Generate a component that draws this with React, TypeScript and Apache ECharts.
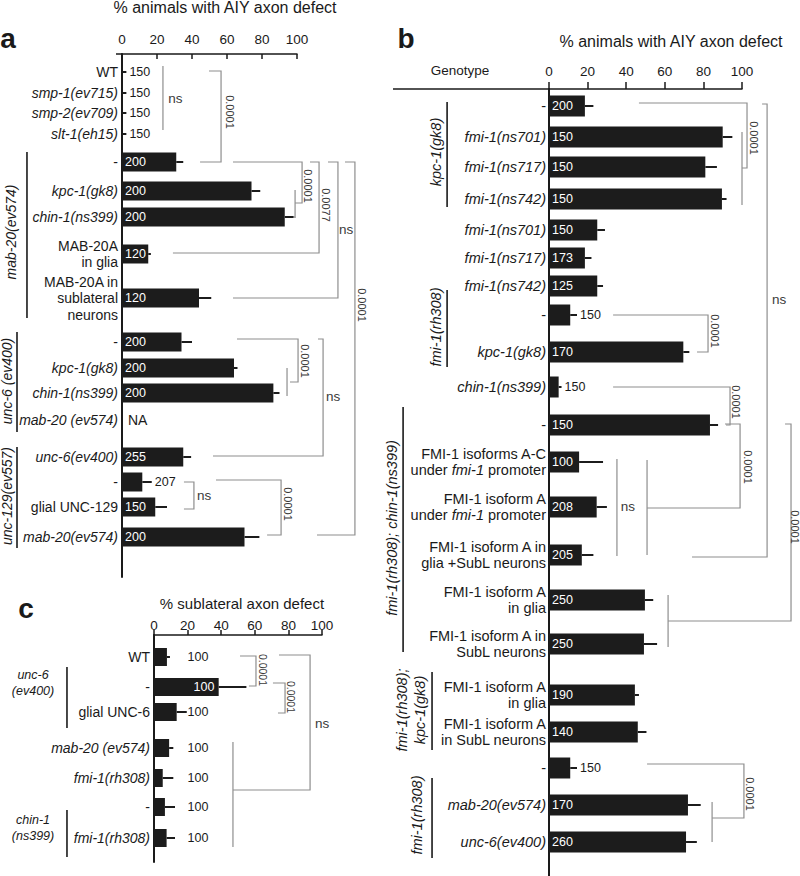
import React, { useEffect, useRef } from "react";
import * as echarts from "echarts";

const FONT = "'Liberation Sans', Arial, Helvetica, sans-serif";
const INK = "#1a1a1a";
const BAR = "#1c1c1c";
const GRAY = "#8e8e8e";

// ---------------- Panel a ----------------
const aCats = [
  "WT", "smp-1(ev715)", "smp-2(ev709)", "slt-1(eh15)",
  "-", "kpc-1(gk8)", "chin-1(ns399)", "MAB-20A\nin glia", "MAB-20A in\nsublateral\nneurons",
  "-", "kpc-1(gk8)", "chin-1(ns399)", "mab-20 (ev574)",
  "unc-6(ev400)", "-", "glial UNC-129", "mab-20(ev574)",
];
const aItalic = [0, 1, 1, 1, 0, 1, 1, 0, 0, 0, 1, 1, 1, 1, 0, 0, 1];
const aValues: (number | null)[] = [0, 0, 0, 0, 31, 74, 93, 15, 44, 34, 64, 86.5, null, 35, 11.6, 19, 70];
const aErr: (number | null)[] = [2.5, 2.5, 2.5, 2.5, 35, 79, 98, 16.5, 51, 40, 66, 90, null, 39.5, 17, 25.7, 78.5];
const aN = ["150", "150", "150", "150", "200", "200", "200", "120", "120", "200", "200", "200", "NA", "255", "207", "150", "200"];

// ---------------- Panel b ----------------
const bCats = [
  "-", "fmi-1(ns701)", "fmi-1(ns717)", "fmi-1(ns742)",
  "fmi-1(ns701)", "fmi-1(ns717)", "fmi-1(ns742)",
  "-", "kpc-1(gk8)", "chin-1(ns399)", "-",
  "FMI-1 isoforms A-C\nunder {i|fmi-1} promoter",
  "FMI-1 isoform A\nunder {i|fmi-1} promoter",
  "FMI-1 isoform A in\nglia +SubL neurons",
  "FMI-1 isoform A\nin glia",
  "FMI-1 isoform A in\nSubL neurons",
  "FMI-1 isoform A\nin glia",
  "FMI-1 isoform A\nin SubL neurons",
  "-", "mab-20(ev574)", "unc-6(ev400)",
];
const bItalic = [0, 1, 1, 1, 1, 1, 1, 0, 1, 1, 0, 0, 0, 0, 0, 0, 0, 0, 0, 1, 1];
const bValues: (number | null)[] = [18.6, 90, 81, 89.6, 25, 18.6, 25, 11, 69.6, 5, 83.4, 15.6, 24.7, 17, 49.7, 49.2, 44.5, 46, 11, 72, 71];
const bErr: (number | null)[] = [23, 95, 87, 92, 29, 22, 28, 14.5, 72.7, 6.5, 87.6, 28, 30, 23, 54, 56, 46.6, 50.5, 14.5, 78.6, 76.6];
const bN = ["200", "150", "150", "150", "150", "173", "125", "150", "170", "150", "150", "100", "208", "205", "250", "250", "190", "140", "150", "170", "260"];

// ---------------- Panel c ----------------
const cCats = ["WT", "-", "glial UNC-6", "mab-20 (ev574)", "fmi-1(rh308)", "-", "fmi-1(rh308)"];
const cItalic = [0, 0, 0, 1, 1, 0, 1];
const cValues: (number | null)[] = [7.7, 38.5, 13.5, 9, 5.2, 6.5, 7.5];
const cErr: (number | null)[] = [9.5, 55, 19.5, 11.5, 11.5, 12.5, 12.5];
const cN = ["100", "100", "100", "100", "100", "100", "100"];

// ---------------- Layout (row positions along each panel's vertical scale) ----------------
const aRowY = [18, 39, 59, 80, 108, 137, 163, 200, 244, 288, 314, 339, 366, 403, 428, 453, 483];
const bRowY = [17, 48, 78, 110, 141, 169, 197, 226, 263, 298, 336, 373, 418, 466, 511, 555, 606, 643, 679, 716, 753];
const cRowY = [22, 52, 77, 113, 143, 172, 203];

// significance brackets, in [percent, row-scale] coordinates
const aBrackets = [
  { paths: [[[23.4, 12], [23.4, 76]]], text: "ns", at: [30.5, 44], rot: false },
  { paths: [[[49.7, 17], [56.6, 17], [56.6, 108], [44.6, 108]]], text: "0.0001", at: [61.7, 58], rot: true },
  { paths: [[[63.4, 108], [102.9, 108], [102.9, 149], [98.9, 149]], [[98.9, 136], [98.9, 164]], [[97.7, 163], [98.9, 163]]], text: "0.0001", at: [106, 132], rot: true },
  { paths: [[[107.4, 108], [112.6, 108], [112.6, 199], [29.1, 199]]], text: "0.0077", at: [116.5, 151], rot: true },
  { paths: [[[117.7, 108], [123.4, 108], [123.4, 244], [63.4, 244]]], text: "ns", at: [128, 175], rot: false },
  { paths: [[[127.4, 108], [133.1, 108], [133.1, 481], [111.4, 481]]], text: "0.0001", at: [137.1, 251], rot: true },
  { paths: [[[65.7, 285], [100.6, 285], [100.6, 328], [96, 328]], [[94.3, 314], [94.3, 342]]], text: "0.0001", at: [104.6, 307], rot: true },
  { paths: [[[112, 285], [114.9, 285], [114.9, 402], [52, 402]]], text: "ns", at: [120.6, 342], rot: false },
  { paths: [[[35.4, 428], [41.1, 428], [41.1, 455], [35.4, 455]]], text: "ns", at: [46.9, 441], rot: false },
  { paths: [[[53.7, 426], [90.9, 426], [90.9, 481], [82.9, 481]]], text: "0.0001", at: [94.9, 450], rot: true },
];
const bBrackets = [
  { paths: [[[46.6, 14], [102.6, 14], [102.6, 79], [100, 79]], [[100, 43], [100, 116]]], text: "0.0001", at: [106.2, 49], rot: true },
  { paths: [[[110.4, 15], [113, 15], [113, 468], [74.1, 468]]], text: "ns", at: [119.2, 210], rot: false },
  { paths: [[[33.2, 226], [82.4, 226], [82.4, 263], [76.7, 263]]], text: "0.0001", at: [86, 242], rot: true },
  { paths: [[[33.2, 298], [93.8, 298], [93.8, 336], [91.7, 336]]], text: "0.0001", at: [96.9, 313], rot: true },
  { paths: [[[91.2, 335], [99, 335], [99, 419], [50.8, 419]], [[50.8, 371], [50.8, 466]]], text: "0.0001", at: [103.1, 378], rot: true },
  { paths: [[[35.2, 370], [35.2, 467]]], text: "ns", at: [40.9, 417], rot: false },
  { paths: [[[122.3, 335], [125.4, 335], [125.4, 532], [61.7, 532]], [[61.7, 506], [61.7, 558]]], text: "0.0001", at: [127.5, 438], rot: true },
  { paths: [[[50.8, 675], [101, 675], [101, 729], [84.5, 729]], [[84.5, 713], [84.5, 753]]], text: "0.0001", at: [104.1, 705], rot: true },
];
const cBrackets = [
  { paths: [[[51.2, 21], [60.7, 21], [60.7, 51], [56.5, 51]]], text: "0.0001", at: [64.9, 35], rot: true },
  { paths: [[[70.8, 48], [78, 48], [78, 78], [73.8, 78]]], text: "0.0001", at: [81.8, 62], rot: true },
  { paths: [[[74.4, 20], [92.9, 20], [92.9, 155], [47, 155]], [[47, 107], [47, 212]]], text: "ns", at: [100, 88], rot: false },
];

// genotype group labels
const aGroups = [
  { text: "mab-20(ev574)", lineV: -54.3, y0: 98, y1: 264, textV: -63.7, textY: 178, rot: true },
  { text: "unc-6 (ev400)", lineV: -60, y0: 278, y1: 378, textV: -65.7, textY: 327, rot: true },
  { text: "unc-129(ev557)", lineV: -60, y0: 393, y1: 494, textV: -65.7, textY: 442, rot: true },
];
const bGroups = [
  { text: "kpc-1(gk8)", lineV: -52.8, y0: 13, y1: 118, textV: -58.5, textY: 63, rot: true },
  { text: "fmi-1(rh308)", lineV: -52.8, y0: 201, y1: 278, textV: -58.5, textY: 238, rot: true },
  { text: "fmi-1(rh308); chin-1(ns399)", lineV: -75.6, y0: 318, y1: 563, textV: -81.3, textY: 439, rot: true },
  { text: "fmi-1(rh308);\nkpc-1(gk8)", lineV: -60.6, y0: 583, y1: 661, textV: -71.5, textY: 621, rot: true },
  { text: "fmi-1(rh308)", lineV: -60.6, y0: 689, y1: 769, textV: -68.4, textY: 726, rot: true },
];
const cGroups = [
  { text: "unc-6\n(ev400)", lineV: -51.8, y0: 32, y1: 93, textV: -72, textY: 48, rot: false },
  { text: "chin-1\n(ns399)", lineV: -51.8, y0: 175, y1: 222, textV: -72, textY: 193, rot: false },
];

type Panel = {
  cats: string[]; italic: number[]; values: (number | null)[]; err: (number | null)[]; n: string[]; rowY: number[];
  barH: number; labelFont: number; lineH: number; labelGap: number; fixedLabelV?: number;
  brackets: any[]; groups: any[]; pFont: number; groupFont: number; groupLineH: number;
};

const panels: Panel[] = [
  { cats: aCats, italic: aItalic, values: aValues, err: aErr, n: aN, rowY: aRowY, barH: 19, labelFont: 14, lineH: 16.5, labelGap: 4, brackets: aBrackets, groups: aGroups, pFont: 11, groupFont: 14, groupLineH: 17 },
  { cats: bCats, italic: bItalic, values: bValues, err: bErr, n: bN, rowY: bRowY, barH: 21, labelFont: 14.5, lineH: 16.5, labelGap: 3, brackets: bBrackets, groups: bGroups, pFont: 11, groupFont: 14.5, groupLineH: 18 },
  { cats: cCats, italic: cItalic, values: cValues, err: cErr, n: cN, rowY: cRowY, barH: 18, labelFont: 14, lineH: 15, labelGap: 4, fixedLabelV: 20, brackets: cBrackets, groups: cGroups, pFont: 10.5, groupFont: 12.5, groupLineH: 16.5 },
];

const grids = [
  { left: 122, top: 54, width: 175, height: 523 },
  { left: 549, top: 89, width: 193, height: 787 },
  { left: 154, top: 635, width: 168, height: 227 },
];

function barRenderer(p: Panel) {
  return (params: any, api: any) => {
    const i = params.dataIndex;
    const y = p.rowY[i];
    const v = p.values[i];
    const e = p.err[i];
    const base = api.coord([0, y]);
    const x0 = base[0];
    const yc = base[1];
    const kids: any[] = [];
    const label = p.cats[i];
    const lstyle: any = {
      text: label, fill: INK, fontSize: p.labelFont, fontFamily: FONT,
      fontStyle: p.italic[i] ? "italic" : "normal", align: "right", verticalAlign: "middle", lineHeight: p.lineH,
    };
    if (label.indexOf("{") >= 0) {
      lstyle.rich = { i: { fontStyle: "italic", fontSize: p.labelFont, fontFamily: FONT, fill: INK, lineHeight: p.lineH, align: "right" } };
    }
    kids.push({ type: "text", x: x0 - p.labelGap, y: yc, style: lstyle });
    let x1 = x0;
    if (v != null && v > 0) {
      x1 = api.coord([v, y])[0];
      kids.push({ type: "rect", shape: { x: x0, y: yc - p.barH / 2, width: x1 - x0, height: p.barH }, style: { fill: BAR } });
    }
    let xe = x1;
    if (e != null && v != null) {
      xe = api.coord([e, y])[0];
      kids.push({ type: "line", shape: { x1: x1, y1: yc, x2: xe, y2: yc }, style: { stroke: BAR, lineWidth: 2, fill: "none" } });
    }
    let lx: number;
    let fill = INK;
    if (v == null) {
      lx = x0 + 6;
    } else if (p.fixedLabelV != null) {
      lx = api.coord([p.fixedLabelV, y])[0];
      if (lx + 22 < x1) { fill = "#ffffff"; lx = lx + 6; }
    } else if (x1 - x0 >= 26) {
      lx = x0 + 3;
      fill = "#ffffff";
    } else {
      lx = xe + 3;
    }
    kids.push({
      type: "text", x: lx, y: yc,
      style: { text: p.n[i], fill, fontSize: v == null ? 14 : 12.5, fontFamily: FONT, align: "left", verticalAlign: "middle" },
    });
    return { type: "group", children: kids };
  };
}

function bracketRenderer(p: Panel) {
  return (params: any, api: any) => {
    const b = p.brackets[params.dataIndex];
    const kids: any[] = b.paths.map((path: number[][]) => ({
      type: "polyline",
      shape: { points: path.map((pt) => api.coord(pt)) },
      style: { stroke: GRAY, lineWidth: 1.2, fill: "none" },
    }));
    const pos = api.coord(b.at);
    kids.push({
      type: "text", x: pos[0], y: pos[1], rotation: b.rot ? -Math.PI / 2 : 0,
      style: { text: b.text, fill: "#3a3a3a", fontSize: b.rot ? p.pFont : 13.5, fontFamily: FONT, align: "center", verticalAlign: "middle" },
    });
    return { type: "group", children: kids };
  };
}

function groupRenderer(p: Panel) {
  return (params: any, api: any) => {
    const g = p.groups[params.dataIndex];
    const a = api.coord([g.lineV, g.y0]);
    const b = api.coord([g.lineV, g.y1]);
    const t = api.coord([g.textV, g.textY]);
    return {
      type: "group",
      children: [
        { type: "line", shape: { x1: a[0], y1: a[1], x2: b[0], y2: b[1] }, style: { stroke: INK, lineWidth: 1.6, fill: "none" } },
        {
          type: "text", x: t[0], y: t[1], rotation: g.rot ? Math.PI / 2 : 0,
          style: { text: g.text, fill: INK, fontSize: p.groupFont, fontFamily: FONT, fontStyle: "italic", align: "center", verticalAlign: "middle", lineHeight: p.groupLineH },
        },
      ],
    };
  };
}

function buildOption() {
  const xAxis = [
    { inside: true, len: 5, margin: 8 },
    { inside: false, len: 7, margin: 11 },
    { inside: false, len: 5, margin: 3 },
  ].map((c, gi) => ({
    gridIndex: gi, type: "value", position: "top", min: 0, max: 100, interval: 20,
    axisLine: { show: true, onZero: false, lineStyle: { color: INK, width: 1.5 } },
    axisTick: { show: true, inside: c.inside, length: c.len, lineStyle: { color: INK, width: 1.5 } },
    axisLabel: { show: true, fontSize: 13.5, color: INK, fontFamily: FONT, margin: c.margin },
    splitLine: { show: false },
  }));
  const yAxis = grids.map((g, gi) => ({
    gridIndex: gi, type: "value", inverse: true, min: 0, max: g.height,
    axisLine: { show: true, onZero: false, lineStyle: { color: INK, width: 2 } },
    axisTick: { show: false }, axisLabel: { show: false }, splitLine: { show: false },
  }));
  const series: any[] = [];
  panels.forEach((p, gi) => {
    const common = { type: "custom", coordinateSystem: "cartesian2d", xAxisIndex: gi, yAxisIndex: gi, silent: true, clip: false };
    series.push({ ...common, name: "brackets" + gi, data: p.brackets.map((b: any) => b.at), renderItem: bracketRenderer(p) });
    series.push({ ...common, name: "groups" + gi, data: p.groups.map((g: any) => [g.lineV, g.textY]), renderItem: groupRenderer(p) });
    series.push({ ...common, name: "bars" + gi, data: p.values.map((v, i) => [v == null ? 0 : v, p.rowY[i]]), renderItem: barRenderer(p) });
  });
  const txt = (x: number, y: number, text: string, fontSize: number, bold = false) => ({
    type: "text", x, y, silent: true,
    style: { text, fontSize, fontFamily: FONT, fontWeight: bold ? "bold" : "normal", fill: INK, align: "center", verticalAlign: "middle" },
  });
  const graphic = [
    txt(225, 7, "% animals with AIY axon defect", 16),
    txt(671, 41, "% animals with AIY axon defect", 16),
    txt(242, 603, "% sublateral axon defect", 15),
    txt(8, 38, "a", 28, true),
    txt(406, 38, "b", 28, true),
    txt(26, 608, "c", 28, true),
    txt(460, 70, "Genotype", 13.5),
    { type: "line", silent: true, shape: { x1: 393, y1: grids[1].top, x2: grids[1].left, y2: grids[1].top }, style: { stroke: INK, lineWidth: 1.5 } },
    { type: "line", silent: true, shape: { x1: 116, y1: grids[0].top, x2: grids[0].left, y2: grids[0].top }, style: { stroke: INK, lineWidth: 1.5 } },
  ];
  return { animation: false, backgroundColor: "#ffffff", grid: grids, xAxis, yAxis, series, graphic };
}

export default function App() {
  const ref = useRef<HTMLDivElement | null>(null);
  useEffect(() => {
    if (!ref.current) return;
    const chart = echarts.init(ref.current, undefined, { renderer: "svg" });
    chart.setOption(buildOption() as any);
    return () => chart.dispose();
  }, []);
  return <div ref={ref} style={{ position: "absolute", left: 0, top: 0, width: 800, height: 876, background: "#fff" }} />;
}
